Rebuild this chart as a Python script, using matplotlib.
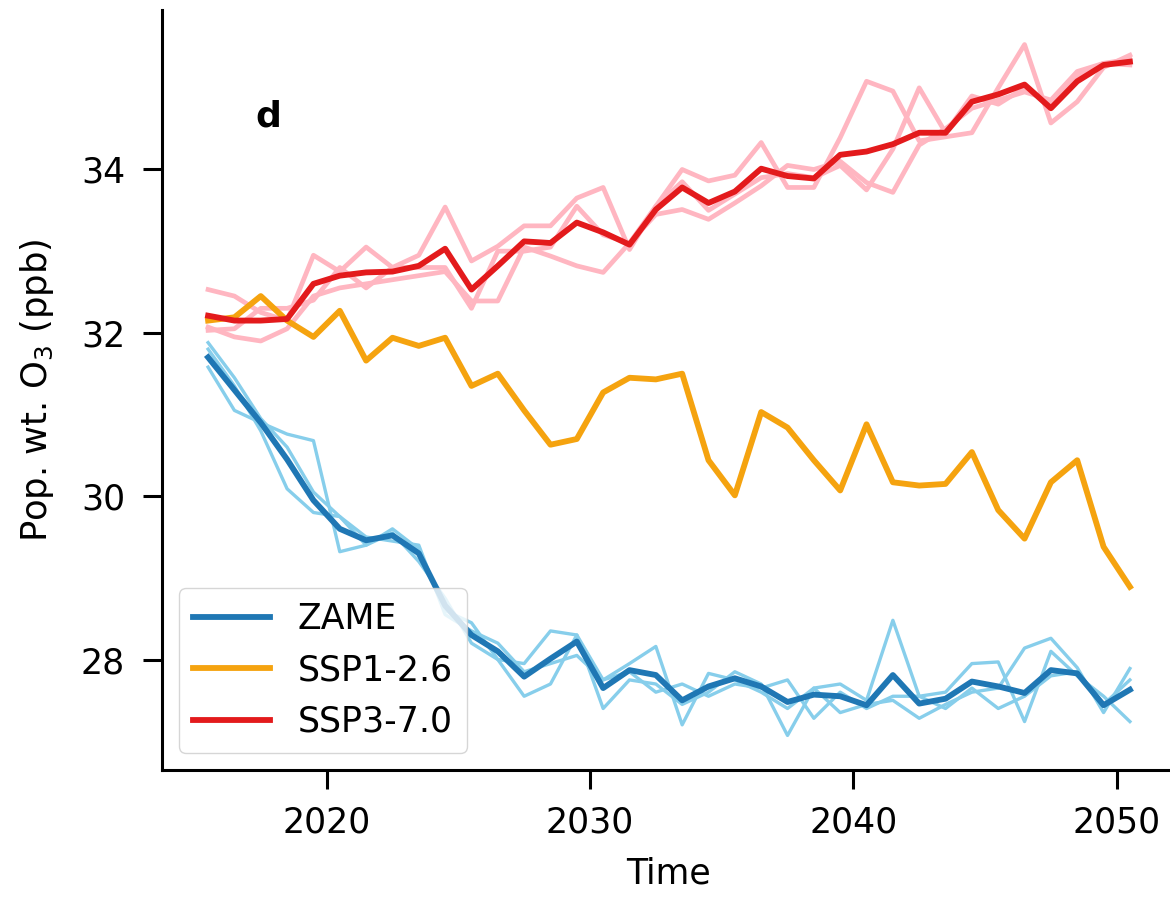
import numpy as np
import matplotlib
matplotlib.use('Agg')
import matplotlib.pyplot as plt


# annual means, mid-year time stamps
years = np.arange(2015.5, 2051.0, 1.0)

# ZAME ensemble mean and members
zame_mean = [31.70, 31.30, 30.90, 30.45, 29.95, 29.60, 29.46, 29.52, 29.30, 28.66,
             28.30, 28.10, 27.79, 28.01, 28.22, 27.65, 27.87, 27.81, 27.50, 27.67,
             27.77, 27.67, 27.48, 27.57, 27.55, 27.44, 27.81, 27.46, 27.52, 27.73,
             27.67, 27.59, 27.87, 27.83, 27.44, 27.63]
zame_m1 = [31.88, 31.45, 30.95, 30.60, 30.05, 29.75, 29.40, 29.60, 29.35, 28.60,
           28.45, 28.00, 27.95, 28.35, 28.30, 27.75, 27.95, 28.16, 27.20, 27.83,
           27.75, 27.60, 27.40, 27.65, 27.70, 27.50, 28.48, 27.55, 27.60, 27.95,
           27.97, 27.24, 28.10, 27.80, 27.55, 27.24]
zame_m2 = [31.58, 31.05, 30.90, 30.76, 30.68, 29.32, 29.40, 29.55, 29.20, 28.75,
           28.20, 28.00, 27.55, 27.70, 28.30, 27.40, 27.75, 27.70, 27.45, 27.60,
           27.85, 27.70, 27.07, 27.65, 27.35, 27.45, 27.50, 27.28, 27.45, 27.60,
           27.65, 28.14, 28.26, 27.90, 27.35, 27.89]
zame_m3 = [31.80, 31.35, 30.80, 30.09, 29.80, 29.75, 29.50, 29.45, 29.40, 28.55,
           28.35, 28.20, 27.85, 27.95, 28.05, 27.75, 27.85, 27.60, 27.70, 27.55,
           27.70, 27.65, 27.75, 27.28, 27.60, 27.40, 27.55, 27.55, 27.40, 27.65,
           27.40, 27.55, 27.80, 27.85, 27.45, 27.75]

# SSP1-2.6 (single run)
ssp126 = [32.15, 32.19, 32.45, 32.15, 31.95, 32.27, 31.66, 31.94, 31.84, 31.94,
          31.35, 31.50, 31.05, 30.63, 30.70, 31.27, 31.45, 31.43, 31.50, 30.44,
          30.01, 31.03, 30.84, 30.44, 30.07, 30.88, 30.17, 30.13, 30.15, 30.54,
          29.83, 29.48, 30.17, 30.44, 29.38, 28.89]

# SSP3-7.0 ensemble mean and members
ssp370_mean = [32.21, 32.15, 32.15, 32.17, 32.60, 32.70, 32.74, 32.75, 32.82, 33.03,
               32.53, 32.82, 33.12, 33.10, 33.35, 33.23, 33.08, 33.51, 33.78, 33.59,
               33.73, 34.01, 33.92, 33.89, 34.18, 34.22, 34.31, 34.45, 34.45, 34.83,
               34.92, 35.04, 34.75, 35.08, 35.28, 35.32]
ssp370_m1 = [32.53, 32.45, 32.25, 32.15, 32.95, 32.75, 33.05, 32.80, 32.95, 33.54,
             32.88, 33.06, 33.31, 33.31, 33.65, 33.78, 33.02, 33.55, 34.00, 33.86,
             33.93, 34.33, 33.78, 33.78, 34.39, 35.08, 34.96, 34.35, 34.40, 34.45,
             35.00, 35.53, 34.57, 34.83, 35.25, 35.40]
ssp370_m2 = [32.07, 31.95, 31.90, 32.05, 32.45, 32.55, 32.60, 32.65, 32.70, 32.75,
             32.39, 32.39, 33.05, 32.94, 32.82, 32.74, 33.10, 33.45, 33.51, 33.39,
             33.59, 33.80, 34.05, 34.00, 34.10, 33.84, 33.72, 34.30, 34.50, 34.75,
             34.85, 34.95, 34.85, 35.20, 35.30, 35.35]
ssp370_m3 = [32.03, 32.05, 32.30, 32.30, 32.40, 32.80, 32.55, 32.80, 32.80, 32.80,
             32.30, 33.00, 33.00, 33.05, 33.55, 33.20, 33.10, 33.55, 33.85, 33.50,
             33.70, 33.90, 33.95, 33.90, 34.05, 33.75, 34.25, 35.00, 34.45, 34.90,
             34.80, 35.00, 34.80, 35.15, 35.30, 35.28]

fig = plt.figure(figsize=(11.70, 8.98), dpi=100)
ax = fig.add_axes([162 / 1170, 128 / 898, 1014 / 1170, 760 / 898])

for m in (zame_m1, zame_m2, zame_m3):
    ax.plot(years, m, color='#87ceeb', lw=2.4)
for m in (ssp370_m1, ssp370_m2, ssp370_m3):
    ax.plot(years, m, color='#ffb6c1', lw=3.4)

ax.plot(years, zame_mean, color='#1f77b4', lw=4.2, label='ZAME')
ax.plot(years, ssp126, color='#f5a30f', lw=4.2, label='SSP1-2.6')
ax.plot(years, ssp370_mean, color='#e31a1c', lw=4.2, label='SSP3-7.0')

ax.spines['top'].set_visible(False)
ax.spines['right'].set_visible(False)
for s in ('left', 'bottom'):
    ax.spines[s].set_linewidth(2.2)
ax.tick_params(axis='both', labelsize=25, width=2.2, length=13.5)
ax.tick_params(axis='x', pad=12)
ax.tick_params(axis='y', pad=13)
ax.set_yticks([28, 30, 32, 34])
ax.set_xticks([2020, 2030, 2040, 2050])

ax.set_xlabel('Time', fontsize=25, labelpad=12)
ax.set_ylabel('Pop. wt. O$_3$ (ppb)', fontsize=25.5, labelpad=18)

ax.text(0.105, 0.86, 'd', transform=ax.transAxes, fontsize=26,
        fontweight='bold', ha='center', va='center')

ax.legend(loc='lower left', fontsize=25, handlelength=2.2)

fig.savefig('out.png', dpi=100)
